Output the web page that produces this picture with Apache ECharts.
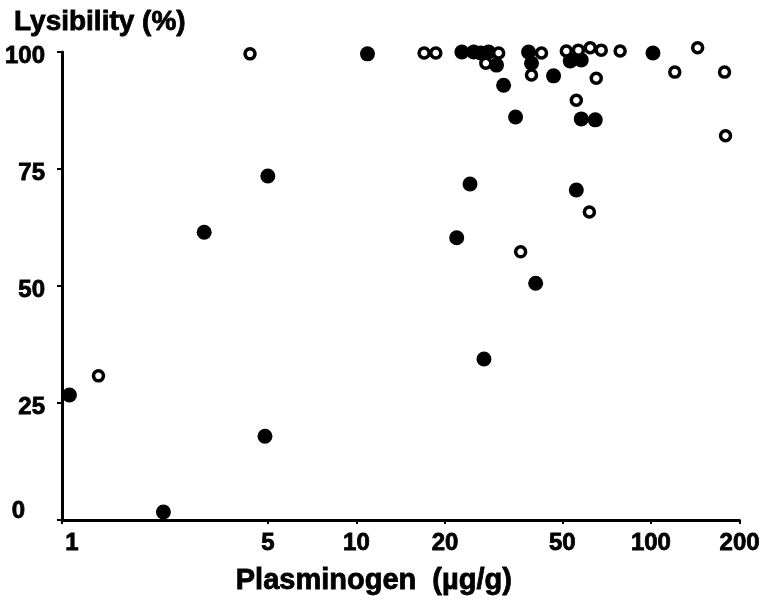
<!DOCTYPE html>
<html>
<head>
<meta charset="utf-8">
<script src="https://cdn.jsdelivr.net/npm/echarts@6/dist/echarts.min.js"></script>
<style>
html,body{margin:0;padding:0;background:#fff;}
#chart{width:763px;height:602px;}
</style>
</head>
<body>
<div id="chart"></div>
<script>
// Plasminogen (µg/g) vs Lysibility (%)
var filledX = [1.06, 2.21, 3.04, 5.0, 4.89, 10.9, 22.8, 25.0, 26.4, 28.1, 29.9, 31.6, 38.4, 39.3, 46.7, 53.2, 58.0, 101.6, 24.3, 55.8, 21.9, 40.6, 27.1, 34.7, 58.0, 64.7];
var filledY = [26.7, 1.7, 61.5, 73.5, 17.9, 99.6, 100, 100, 99.8, 100, 97.2, 92.9, 100, 97.6, 94.9, 98.1, 98.3, 99.8, 71.8, 70.5, 60.3, 50.6, 34.4, 86.1, 85.7, 85.5];
var openX = [1.33, 4.35, 16.97, 18.6, 30.4, 27.5, 42.5, 39.3, 51.6, 56.7, 62.2, 67.8, 78.6, 65.2, 55.8, 61.8, 36.1, 144.1, 120.5, 177.8, 179.2];
var openY = [30.8, 99.6, 99.8, 99.8, 99.8, 97.6, 99.8, 95.1, 100.2, 100.4, 100.9, 100.4, 100.2, 94.4, 89.7, 65.8, 57.3, 100.9, 95.7, 95.7, 82.1];
var xTicks = [1, 5, 10, 20, 50, 100, 200];
var yTicks = [0, 25, 50, 75, 100];

function pairs(xs, ys) { return xs.map(function (x, i) { return [x, ys[i]]; }); }

var font = 'Liberation Sans';
var heavy = { fontFamily: font, fontWeight: 'bold', color: '#000', textBorderColor: '#000', textBorderWidth: 0.8 };
function ts(size, extra) { return Object.assign({}, heavy, { fontSize: size }, extra || {}); }

var chart = echarts.init(document.getElementById('chart'));
chart.setOption({
  animation: false,
  backgroundColor: '#fff',
  title: {
    text: 'Lysibility (%)',
    left: 9, top: 3,
    textStyle: ts(28)
  },
  grid: { left: 62, right: 23, top: 52, bottom: 82 },
  xAxis: {
    type: 'log',
    logBase: 10,
    min: 1, max: 200,
    name: 'Plasminogen  (µg/g)',
    nameLocation: 'middle',
    nameGap: 46,
    nameTextStyle: ts(29, { padding: [0, 54, 0, 0] }),
    axisLine: { lineStyle: { color: '#000', width: 3 } },
    axisTick: { show: true, inside: false, length: 4, lineStyle: { color: '#000', width: 2 }, customValues: xTicks },
    axisLabel: Object.assign(ts(24), { customValues: xTicks, margin: 11,
      formatter: function (v) { var s = String(Math.round(v)); return s === '1' ? '{a|1}' : '{b|' + s + '}'; },
      rich: {
        a: ts(24, { padding: [0, 0, 0, 20] }),
        b: ts(24)
      } }),
    splitLine: { show: false },
    minorTick: { show: false }
  },
  yAxis: {
    type: 'value',
    min: 0, max: 100, interval: 25,
    axisLine: { show: true, lineStyle: { color: '#000', width: 3 } },
    axisTick: { show: true, inside: false, length: 5, lineStyle: { color: '#000', width: 2 } },
    axisLabel: Object.assign(ts(24), {
      margin: 17,
      formatter: function (v) { return v === 0 ? '{z|0}' : '{n|' + v + '}'; },
      rich: {
        z: ts(24, { padding: [0, 20, 18, 0] }),
        n: ts(24, { padding: [8, 0, 0, 0] })
      }
    }),
    splitLine: { show: false }
  },
  series: [
    {
      name: 'filled', type: 'scatter', clip: false,
      symbol: 'circle', symbolSize: 15,
      itemStyle: { color: '#000', opacity: 1 },
      data: pairs(filledX, filledY)
    },
    {
      name: 'open', type: 'scatter', clip: false,
      symbol: 'circle', symbolSize: 10,
      itemStyle: { color: '#fff', borderColor: '#000', borderWidth: 3.5, opacity: 1 },
      data: pairs(openX, openY)
    }
  ]
});
</script>
</body>
</html>
